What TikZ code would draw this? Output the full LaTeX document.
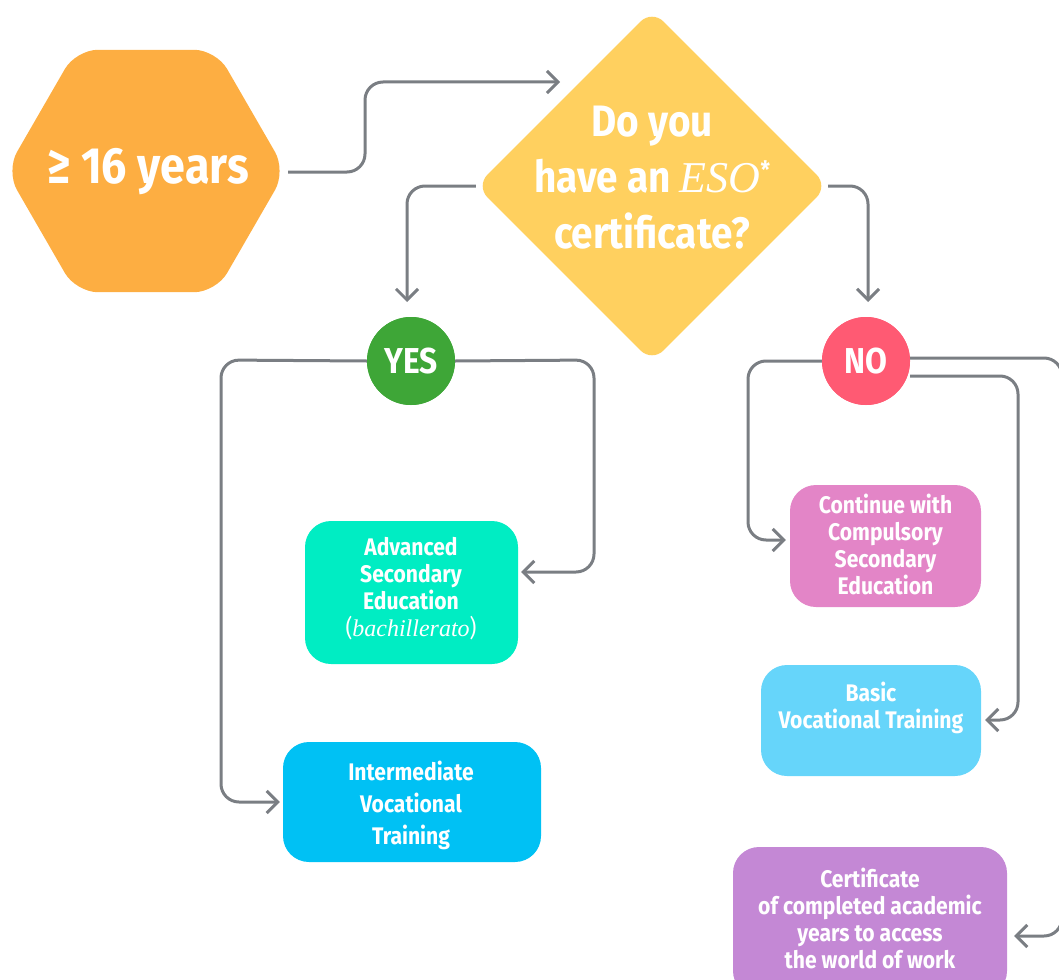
\documentclass[tikz,border=0pt]{standalone}
\usepackage{fontspec}
\setmainfont{Fira Sans}[FakeStretch=0.88]
\newfontfamily\seriffont{Liberation Serif}
\usetikzlibrary{arrows.meta,shapes.geometric}
\definecolor{hexc}{HTML}{FDAE42}
\definecolor{diac}{HTML}{FFD05F}
\definecolor{yesc}{HTML}{3EA637}
\definecolor{noc}{HTML}{FF5A73}
\definecolor{advc}{HTML}{00EDC3}
\definecolor{intc}{HTML}{00C1F4}
\definecolor{conc}{HTML}{E385C7}
\definecolor{basc}{HTML}{66D5FA}
\definecolor{cerc}{HTML}{C488D5}
\definecolor{linec}{HTML}{7A7E83}
\newcommand{\esoit}[1]{{\seriffont\itshape\mdseries #1}}
\begin{document}
\begin{tikzpicture}[x=1pt,y=-1pt,
  conn/.style={draw=linec,line width=3pt,rounded corners=18pt},
  arr/.style={-{Straight Barb[length=11pt,width=22pt,line width=3pt]}},
  boxc/.style={rounded corners=26pt,inner sep=0pt,text=white,align=center,
     font=\bfseries\fontsize{24}{27}\selectfont},
  lbl/.style={text=white,align=center,inner sep=0pt,font=\bfseries\fontsize{24}{27}\selectfont},
  circ/.style={circle,minimum size=88pt,inner sep=0pt,text=white,
     font=\bfseries\fontsize{36}{36}\selectfont}]
\useasboundingbox (0,0) rectangle (1059,979);
\clip (0,0) rectangle (1059,979);
% hexagon
\node[regular polygon,regular polygon sides=6,minimum size=280pt,fill=hexc,
  rounded corners=22pt,inner sep=0pt] (hex) at (146,171) {};
\node[text=white,inner sep=0pt,font=\bfseries\fontsize{51}{51}\selectfont] (hext) at (148,172) {≥ 16 years};
% diamond
\node[diamond,aspect=1,minimum width=352pt,minimum height=352pt,fill=diac,
  rounded corners=16pt,inner sep=0pt] (dia) at (652,186) {};
\node[text=white,align=center,font=\bfseries\fontsize{44}{56}\selectfont] (dq) at (652,178)
  {Do you\\have an \esoit{ESO}\raisebox{14pt}{\fontsize{24}{24}\selectfont*}\\certificate?};
% circles
\node[circ,fill=yesc] (yes) at (411,361) {YES};
\node[circ,fill=noc] (no) at (866,361) {NO};
% boxes
\node[boxc,fill=advc,minimum width=213pt,minimum height=143pt] (adv) at (411.5,592.5) {};
\node[lbl] (advt) at (411,589) {Advanced\\Secondary\\Education\\{\mdseries(}\esoit{bachillerato}{\mdseries)}};
\node[boxc,fill=intc,minimum width=258pt,minimum height=120pt] (int) at (412,802) {};
\node[lbl,font=\bfseries\fontsize{24}{32}\selectfont] (intt) at (411,805) {Intermediate\\Vocational\\Training};
\node[boxc,fill=conc,minimum width=191pt,minimum height=122pt] (con) at (885.5,546) {};
\node[lbl] (cont) at (885.5,544) {Continue with\\Compulsory\\Secondary\\Education};
\node[boxc,fill=basc,minimum width=220pt,minimum height=111pt] (bas) at (871,720.5) {};
\node[lbl] (bast) at (871,708) {Basic\\Vocational Training};
\node[boxc,fill=cerc,minimum width=274pt,minimum height=150pt] (cer) at (870,922) {};
\node[lbl] (cert) at (870,918) {Certificate\\of completed academic\\years to access\\the world of work};
% coordinates
\coordinate (h1) at (288,172);
\coordinate (h2) at (365,172);
\coordinate (h3) at (365,82);
\coordinate (h4) at (560,82);
\coordinate (dl2) at (407,186);
\coordinate (dl3) at (407,302);
\coordinate (dr2) at (868,186);
\coordinate (dr3) at (868,302);
% connectors
\draw[conn,arr] (h1) -- (h2) -- (h3) -- (h4);
\draw[conn,arr] (dia.west) -- (dl2) -- (dl3);
\draw[conn,arr] (dia.east) -- (dr2) -- (dr3);
\draw[conn,arr] (yes.west) -- (221,360) -- (221,802) -- ([xshift=-3pt]int.west);
\draw[conn,arr] (yes.east) -- (594,360) -- (594,572) -- ([xshift=3pt]adv.east |- 0,572);
\draw[conn,arr] (no.west) -- (748,361) -- (748,540) -- ([xshift=-4pt]con.west |- 0,540);
\draw[conn,arr] (no.east |- 0,376) -- (1018,376) -- (1018,720) -- ([xshift=4pt]bas.east |- 0,720);
\draw[conn,arr] (no.east |- 0,358) -- (1062,358) -- (1062,936) -- ([xshift=7pt]cer.east |- 0,936);
% redraw circles on top
\node[circ,fill=yesc] at (yes) {YES};
\node[circ,fill=noc] at (no) {NO};
\end{tikzpicture}
\end{document}
